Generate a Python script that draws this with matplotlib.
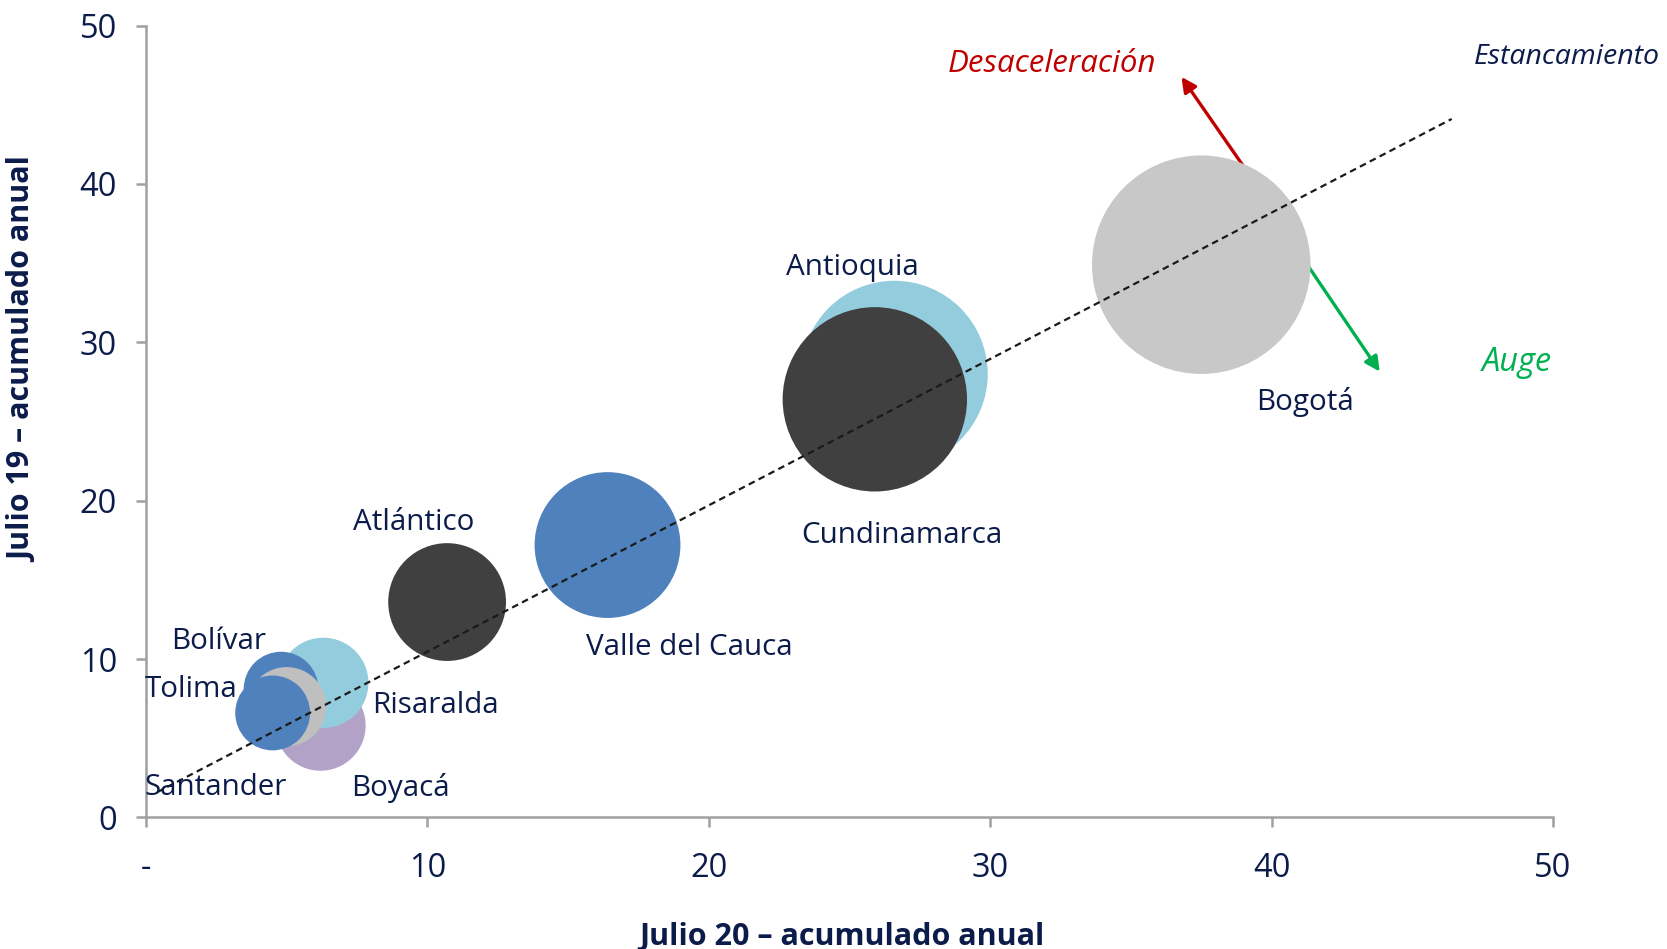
import numpy as np
import matplotlib
matplotlib.use("Agg")
import matplotlib.pyplot as plt

plt.rcParams['font.family'] = ['Open Sans', 'DejaVu Sans']

# bubble data: x = Julio 20, y = Julio 19, size = weight of the bubble
regiones = ['Bogotá', 'Antioquia', 'Cundinamarca', 'Valle del Cauca', 'Atlántico',
            'Boyacá', 'Risaralda', 'Bolívar', 'Tolima', 'Santander']
julio20 = [37.5, 26.6, 25.9, 16.4, 10.7, 6.2, 6.3, 4.8, 5.0, 4.5]
julio19 = [34.9, 28.0, 26.4, 17.2, 13.6, 5.8, 8.5, 8.1, 7.0, 6.6]
peso = [37.5, 27.3, 26.7, 16.7, 10.9, 6.4, 6.4, 4.4, 4.9, 4.4]
colores = ['#C8C8C8', '#93CDDD', '#404040', '#4F81BD', '#404040',
           '#B3A2C7', '#93CDDD', '#4F81BD', '#BFBFBF', '#4F81BD']

# label positions (data units)
lab_x = [41.2, 25.1, 26.85, 19.3, 9.5, 9.03, 10.27, 2.57, 1.62, 2.49]
lab_y = [26.2, 34.7, 17.8, 10.7, 18.6, 1.88, 7.05, 11.1, 8.1, 1.88]

# trend line
linea_x = [0.4, 46.4]
linea_y = [1.6, 44.1]

xticks = [0, 10, 20, 30, 40, 50]
xticklabels = ['-', '10', '20', '30', '40', '50']
yticks = [0, 10, 20, 30, 40, 50]

navy = '#0C1C4A'

fig = plt.figure(figsize=(16.67, 9.49), dpi=100)
ax = fig.add_axes([0.0876, 0.1386, 0.8440, 0.8345])

k = 660.0
for i in range(len(regiones)):
    ax.scatter(julio20[i], julio19[i], s=peso[i] * k, color=colores[i],
               edgecolors='none', zorder=3 + i * 0.01)
    ax.text(lab_x[i], lab_y[i], regiones[i], color=navy, fontsize=21.3,
            ha='center', va='center', zorder=10)

ax.plot(linea_x, linea_y, color='#1a1a1a', linestyle=(0, (3, 2)), linewidth=1.6, zorder=5)

# arrows
ax.annotate('', xy=(36.74, 46.9), xytext=(39.2, 40.6),
            arrowprops=dict(arrowstyle='-|>', color='#C00000', lw=2.4, mutation_scale=22),
            zorder=2)
ax.annotate('', xy=(43.9, 28.0), xytext=(41.0, 35.6),
            arrowprops=dict(arrowstyle='-|>', color='#00B050', lw=2.4, mutation_scale=22),
            zorder=2)

ax.text(32.2, 47.55, 'Desaceleración', color='#C00000', fontsize=22.5, style='italic',
        ha='center', va='center')
ax.text(50.5, 48.0, 'Estancamiento', color=navy, fontsize=20.5, style='italic',
        ha='center', va='center', clip_on=False)
ax.text(48.7, 28.7, 'Auge', color='#00B050', fontsize=23.5, style='italic',
        ha='center', va='center', clip_on=False)

ax.set_xlim(0, 50)
ax.set_ylim(0, 50)
ax.set_xticks(xticks)
ax.set_xticklabels(xticklabels)
ax.set_yticks(yticks)
for s in ['top', 'right']:
    ax.spines[s].set_visible(False)
for s in ['left', 'bottom']:
    ax.spines[s].set_color('#A0A0A0')
    ax.spines[s].set_linewidth(1.8)
ax.tick_params(axis='both', colors='#A0A0A0', width=1.8, length=7, labelcolor=navy,
               labelsize=23.5)
ax.tick_params(axis='x', pad=18)
ax.tick_params(axis='y', pad=14)

fig.text(0.5048, 0.013, 'Julio 20 – acumulado anual', color=navy, fontsize=22,
         fontweight='bold', ha='center', va='center')
fig.text(0.014, 0.621, 'Julio 19 – acumulado anual', color=navy, fontsize=22,
         fontweight='bold', ha='center', va='center', rotation=90)

fig.savefig('out.png', dpi=100)
